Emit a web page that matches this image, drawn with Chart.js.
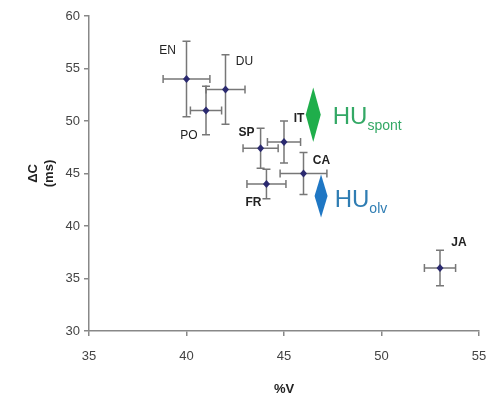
<!DOCTYPE html>
<html>
<head>
<meta charset="utf-8">
<script src="https://cdn.jsdelivr.net/npm/chart.js@4"></script>
<style>
  html, body { margin: 0; padding: 0; background: #fff; }
  #wrap { width: 489px; height: 401px; }
</style>
</head>
<body>
<div id="wrap"><canvas id="myChart" width="489" height="401"></canvas></div>
<script>
// dati
const languages = ['EN', 'DU', 'PO', 'SP', 'IT', 'CA', 'FR', 'JA'];
const percentV = [40.0, 42.0, 41.0, 43.8, 45.0, 46.0, 44.1, 53.0];
const deltaC = [54.0, 53.0, 51.0, 47.4, 48.0, 45.0, 44.0, 36.0];
const errV = [1.2, 1.0, 0.8, 0.9, 0.85, 1.2, 1.0, 0.8];
const errC = [3.6, 3.3, 2.3, 1.9, 2.0, 2.0, 1.4, 1.7];
const xTicks = [35, 40, 45, 50, 55];
const yTicks = [30, 35, 40, 45, 50, 55, 60];

// posizione delle etichette rispetto al punto (pixel)
const labelOffsets = [[-19, -28], [19, -28], [-17, 25], [-14, -16], [15, -23], [18, -13], [-13, 19], [19, -25]];
const labelBold = [false, false, false, true, true, true, true, true];

// plugin per barre d'errore, etichette e frecce HU
const extrasPlugin = {
    id: 'extras',
    afterDatasetsDraw(chart) {
        const ctx = chart.ctx;
        const xs = chart.scales.x;
        const ys = chart.scales.y;
        ctx.save();
        ctx.strokeStyle = '#777';
        ctx.lineWidth = 1.5;
        const cap = 4;
        percentV.forEach((v, i) => {
            const px = xs.getPixelForValue(v);
            const py = ys.getPixelForValue(deltaC[i]);
            const x1 = xs.getPixelForValue(v - errV[i]);
            const x2 = xs.getPixelForValue(v + errV[i]);
            const y1 = ys.getPixelForValue(deltaC[i] + errC[i]);
            const y2 = ys.getPixelForValue(deltaC[i] - errC[i]);
            ctx.beginPath();
            ctx.moveTo(x1, py); ctx.lineTo(x2, py);
            ctx.moveTo(x1, py - cap); ctx.lineTo(x1, py + cap);
            ctx.moveTo(x2, py - cap); ctx.lineTo(x2, py + cap);
            ctx.moveTo(px, y1); ctx.lineTo(px, y2);
            ctx.moveTo(px - cap, y1); ctx.lineTo(px + cap, y1);
            ctx.moveTo(px - cap, y2); ctx.lineTo(px + cap, y2);
            ctx.stroke();
        });
        // punti sopra le barre
        ctx.fillStyle = '#2b2a70';
        percentV.forEach((v, i) => {
            const px = xs.getPixelForValue(v);
            const py = ys.getPixelForValue(deltaC[i]);
            ctx.beginPath();
            ctx.moveTo(px, py - 4); ctx.lineTo(px + 3.5, py);
            ctx.lineTo(px, py + 4); ctx.lineTo(px - 3.5, py);
            ctx.closePath();
            ctx.fill();
        });
        // etichette
        ctx.fillStyle = '#222';
        ctx.textAlign = 'center';
        ctx.textBaseline = 'middle';
        languages.forEach((name, i) => {
            const px = xs.getPixelForValue(percentV[i]);
            const py = ys.getPixelForValue(deltaC[i]);
            ctx.font = (labelBold[i] ? 'bold ' : '') + '12px "Liberation Sans", Arial, sans-serif';
            ctx.fillText(name, px + labelOffsets[i][0], py + labelOffsets[i][1]);
        });
        // rombi HU
        function diamond(x, yTop, yBot, w, color) {
            const cx = xs.getPixelForValue(x);
            const t = ys.getPixelForValue(yTop);
            const b = ys.getPixelForValue(yBot);
            ctx.fillStyle = color;
            ctx.beginPath();
            ctx.moveTo(cx, t);
            ctx.lineTo(cx + w / 2, (t + b) / 2);
            ctx.lineTo(cx, b);
            ctx.lineTo(cx - w / 2, (t + b) / 2);
            ctx.closePath();
            ctx.fill();
        }
        diamond(46.5, 53.2, 48.0, 15, '#1fae4b');
        diamond(46.9, 44.9, 40.8, 13, '#1f77c4');
        function huText(x, y, sub, color) {
            const px = xs.getPixelForValue(x);
            const py = ys.getPixelForValue(y);
            ctx.fillStyle = color;
            ctx.textAlign = 'left';
            ctx.textBaseline = 'alphabetic';
            ctx.font = '24px "Liberation Sans", Arial, sans-serif';
            ctx.fillText('HU', px, py);
            const w = ctx.measureText('HU').width;
            ctx.font = '14px "Liberation Sans", Arial, sans-serif';
            ctx.fillText(sub, px + w, py + 6);
        }
        huText(47.5, 49.7, 'spont', '#33a865');
        huText(47.6, 41.8, 'olv', '#2f7db3');
        ctx.restore();
    }
};

const ctx = document.getElementById('myChart').getContext('2d');
const myChart = new Chart(ctx, {
    type: 'scatter',
    data: {
        datasets: [{
            label: '%V / ΔC',
            data: percentV.map((v, i) => ({ x: v, y: deltaC[i] })),
            pointRadius: 0,
            showLine: false
        }]
    },
    options: {
        responsive: false,
        animation: false,
        layout: { padding: { left: 0, right: 0, top: 16, bottom: 0 } },
        plugins: {
            legend: { display: false },
            tooltip: { enabled: false }
        },
        scales: {
            x: {
                type: 'linear',
                min: 35,
                max: 55,
                afterBuildTicks: axis => { axis.ticks = xTicks.map(v => ({ value: v })); },
                afterFit: axis => { axis.height = 70; axis.paddingRight = 10; axis.paddingLeft = 0; },
                grid: { drawOnChartArea: false, drawTicks: true, tickLength: 5, color: '#888', lineWidth: 1.5 },
                border: { color: '#888', width: 1.5 },
                ticks: { color: '#444', font: { size: 13, family: '"Liberation Sans", Arial' }, padding: 13 },
                title: { display: true, text: '%V', color: '#222', font: { size: 13, weight: 'bold', family: '"Liberation Sans", Arial' }, padding: { top: 10 } }
            },
            y: {
                type: 'linear',
                min: 30,
                max: 60,
                afterBuildTicks: axis => { axis.ticks = yTicks.map(v => ({ value: v })); },
                afterFit: axis => { axis.width = 89; axis.paddingTop = 0; axis.paddingBottom = 0; },
                grid: { drawOnChartArea: false, drawTicks: true, tickLength: 5, color: '#888', lineWidth: 1.5 },
                border: { color: '#888', width: 1.5 },
                ticks: { color: '#444', font: { size: 13, family: '"Liberation Sans", Arial' }, padding: 4 },
                title: { display: true, text: ['ΔC', '(ms)'], color: '#222', font: { size: 13, weight: 'bold', family: '"Liberation Sans", Arial' }, padding: { top: 26, bottom: 0 } }
            }
        }
    },
    plugins: [extrasPlugin]
});
</script>
</body>
</html>
